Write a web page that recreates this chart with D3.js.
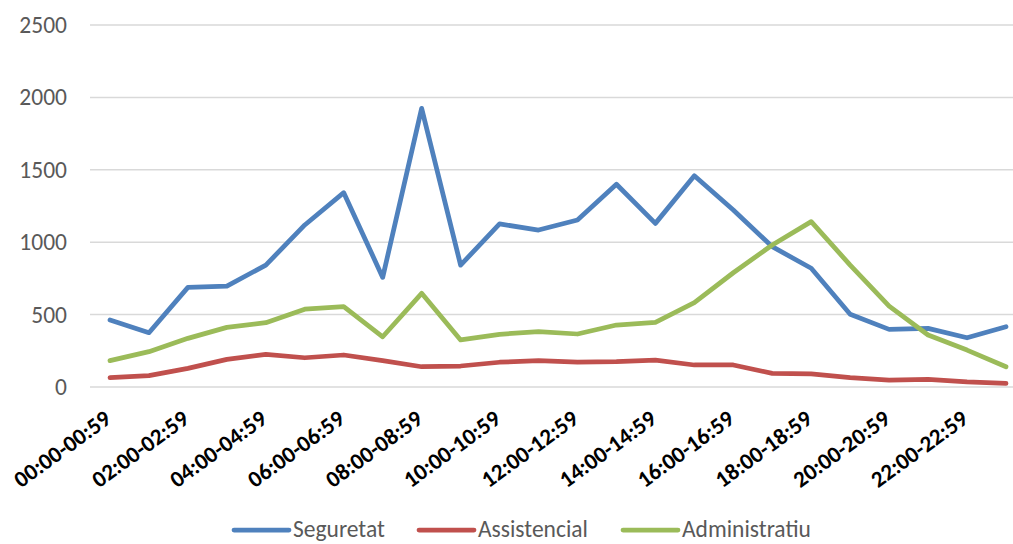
<!DOCTYPE html>
<html>
<head>
<meta charset="utf-8">
<script src="https://cdn.jsdelivr.net/npm/d3@7"></script>
<style>
  html, body { margin: 0; padding: 0; background: #fff; }
  svg { display: block; }
</style>
</head>
<body>
<svg id="chart" width="1013" height="544"></svg>
<script>
const categories = [
  "00:00-00:59","01:00-01:59","02:00-02:59","03:00-03:59","04:00-04:59","05:00-05:59",
  "06:00-06:59","07:00-07:59","08:00-08:59","09:00-09:59","10:00-10:59","11:00-11:59",
  "12:00-12:59","13:00-13:59","14:00-14:59","15:00-15:59","16:00-16:59","17:00-17:59",
  "18:00-18:59","19:00-19:59","20:00-20:59","21:00-21:59","22:00-22:59","23:00-23:59"
];
const seguretat = [463, 375, 688, 697, 842, 1119, 1342, 757, 1924, 842, 1126, 1084,
                   1153, 1400, 1130, 1459, 1222, 969, 820, 502, 398, 405, 340, 416];
const assistencial = [64, 78, 129, 191, 226, 202, 221, 182, 140, 145, 171, 182,
                      171, 175, 186, 152, 152, 94, 90, 64, 48, 53, 35, 25];
const administratiu = [182, 244, 336, 412, 444, 537, 555, 347, 647, 325, 364, 382,
                       366, 428, 447, 582, 789, 981, 1142, 842, 559, 359, 255, 140];
const seriesNames = ["Seguretat", "Assistencial", "Administratiu"];
const seriesColors = ["#4F81BD", "#C0504D", "#9BBB59"];
const yTicks = [0, 500, 1000, 1500, 2000, 2500];

const svg = d3.select("#chart");
const font = "Carlito, Calibri, 'Open Sans', sans-serif";

const x = d3.scalePoint().domain(categories).range([110, 1006]);
const y = d3.scaleLinear().domain([0, 2500]).range([387, 25]);

// gridlines
svg.append("g").selectAll("line").data(yTicks).join("line")
  .attr("x1", 90).attr("x2", 1013)
  .attr("y1", d => y(d)).attr("y2", d => y(d))
  .attr("stroke", "#D9D9D9").attr("stroke-width", 1.5);

// y axis labels
const yAxis = d3.axisLeft(y).tickValues(yTicks).tickSize(0).tickPadding(0).tickFormat(d3.format("d"));
const yg = svg.append("g").attr("transform", "translate(67,0)").call(yAxis);
yg.select(".domain").remove();
yg.selectAll("text")
  .attr("font-family", font).attr("font-size", 23.5).attr("fill", "#595959");

// x axis labels
const xAxis = d3.axisBottom(x).tickValues(categories.filter((d, i) => i % 2 === 0)).tickSize(0).tickPadding(0);
const xg = svg.append("g").attr("transform", "translate(0,387)").call(xAxis);
xg.select(".domain").remove();
xg.selectAll("text")
  .attr("font-family", font).attr("font-size", 23).attr("font-weight", "bold").attr("fill", "#000")
  .attr("text-anchor", "end")
  .attr("dy", null).attr("y", 0)
  .attr("transform", "translate(2,35) rotate(-36)");

// lines
const data = [seguretat, assistencial, administratiu];
const line = d3.line().x((d, i) => x(categories[i])).y(d => y(d));
svg.append("g").selectAll("path").data(data).join("path")
  .attr("d", line)
  .attr("fill", "none")
  .attr("stroke", (d, i) => seriesColors[i])
  .attr("stroke-width", 4.75)
  .attr("stroke-linejoin", "round")
  .attr("stroke-linecap", "round");

// legend
const legendX = [234, 419, 623];
const lg = svg.append("g").selectAll("g").data(seriesNames).join("g")
  .attr("transform", (d, i) => `translate(${legendX[i]},0)`);
lg.append("line")
  .attr("x1", 0).attr("x2", 55).attr("y1", 530).attr("y2", 530)
  .attr("stroke", (d, i) => seriesColors[i]).attr("stroke-width", 4.75).attr("stroke-linecap", "round");
lg.append("text")
  .attr("x", 59).attr("y", 537)
  .attr("font-family", font).attr("font-size", 23.5).attr("fill", "#595959")
  .text(d => d);
</script>
</body>
</html>
